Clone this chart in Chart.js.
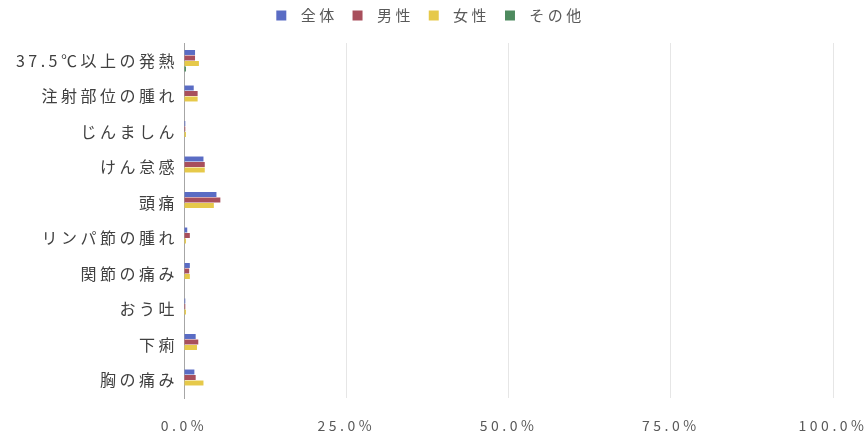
<!DOCTYPE html>
<html>
<head>
<meta charset="utf-8">
<script src="https://cdn.jsdelivr.net/npm/chart.js@4.4.0/dist/chart.umd.min.js"></script>
<style>
  html, body { margin: 0; padding: 0; background: #fff; }
  #wrap { width: 868px; height: 438px; }
</style>
</head>
<body>
<div id="wrap"><canvas id="sideChart"></canvas></div>
<script>
const categories = ["37.5℃以上の発熱", "注射部位の腫れ", "じんましん", "けん怠感", "頭痛", "リンパ節の腫れ", "関節の痛み", "おう吐", "下痢", "胸の痛み"];
const allValues = [1.7, 1.5, 0.2, 3.0, 5.0, 0.5, 0.9, 0.2, 1.8, 1.6];
const maleValues = [1.7, 2.1, 0.2, 3.2, 5.6, 0.9, 0.8, 0.2, 2.2, 1.8];
const femaleValues = [2.3, 2.1, 0.3, 3.2, 4.6, 0.3, 0.9, 0.3, 2.0, 3.0];
const otherValues = [0.3, 0, 0, 0, 0, 0, 0, 0, 0, 0];
const xTicks = [0, 25, 50, 75, 100];

Chart.defaults.font.family = "'Noto Sans CJK JP', 'Noto Sans', sans-serif";
Chart.defaults.color = "#595959";

// the reference text is spaced out, so widen letters on the canvas
const spacing = {
  id: "spacing",
  afterInit(chart) {
    // leave a bigger gap under the legend
    const fit = chart.legend.fit;
    chart.legend.fit = function () { fit.call(this); this.height += 10; };
  },
  beforeUpdate(chart) { chart.ctx.letterSpacing = "3.5px"; },
  beforeDraw(chart) { chart.ctx.letterSpacing = "3.5px"; },
};

const ctx = document.getElementById("sideChart").getContext("2d");
new Chart(ctx, {
  type: "bar",
  plugins: [spacing],
  data: {
    labels: categories,
    datasets: [
      { label: "全体", data: allValues, backgroundColor: "#5a6cc4" },
      { label: "男性", data: maleValues, backgroundColor: "#a84f5c" },
      { label: "女性", data: femaleValues, backgroundColor: "#e6c94a" },
      { label: "その他", data: otherValues, backgroundColor: "#4d8a5e" },
    ],
  },
  options: {
    indexAxis: "y",
    responsive: true,
    maintainAspectRatio: false,
    animation: false,
    layout: { padding: { left: 0, right: 0, top: 0, bottom: 4 } },
    datasets: { bar: { categoryPercentage: 0.62, barPercentage: 0.9 } },
    plugins: {
      legend: {
        position: "top",
        labels: {
          boxWidth: 10,
          boxHeight: 10,
          font: { size: 15 },
          padding: 8,
          generateLabels: (chart) =>
            Chart.defaults.plugins.legend.labels.generateLabels(chart).map((item) => ({ ...item, text: " " + item.text + " " })),
        },
      },
      tooltip: { enabled: false },
    },
    scales: {
      x: {
        min: 0,
        max: 100,
        afterBuildTicks: (axis) => { axis.ticks = xTicks.map((v) => ({ value: v })); },
        afterFit: (scale) => { scale.height = 36; scale.paddingRight = 35; },
        ticks: { callback: (v) => v.toFixed(1) + "%", font: { size: 14 }, padding: 19 },
        grid: { color: "#e6e6e6", drawTicks: false },
        border: { display: false },
      },
      y: {
        afterFit: (scale) => { scale.width = 184; },
        ticks: { font: { size: 16 }, color: "#404040", padding: 6 },
        grid: { display: false, drawTicks: false },
        border: { color: "#a6a6a6" },
      },
    },
  },
});
</script>
</body>
</html>
